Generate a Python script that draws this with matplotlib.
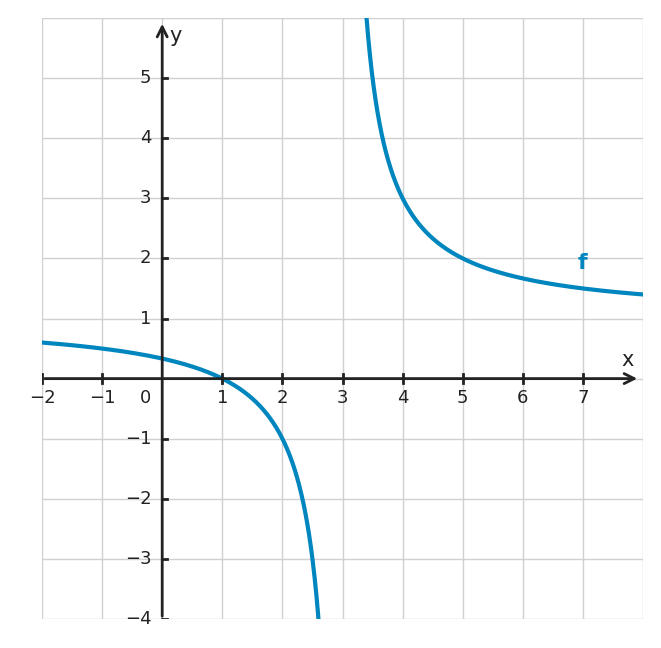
import numpy as np
import matplotlib
matplotlib.use("Agg")
import matplotlib.pyplot as plt

# f(x) = (x - a) / (x - b): zero at x=1, pole at x=3
zero_x = 1
pole_x = 3
x_ticks = [-2, -1, 1, 2, 3, 4, 5, 6, 7]
y_ticks = [-4, -3, -2, -1, 1, 2, 3, 4, 5]
xlim = (-2, 8)
ylim = (-4, 6)
color = "#0086BE"

fig = plt.figure(figsize=(6.61, 6.48), dpi=100)
ax = fig.add_axes([42/661, 29/648, 601/661, 601/648])
ax.set_xlim(*xlim)
ax.set_ylim(*ylim)

for gx in range(-2, 9):
    ax.axvline(gx, color="#d0d0d0", lw=1, zorder=0)
for gy in range(-4, 7):
    ax.axhline(gy, color="#d0d0d0", lw=1, zorder=0)

for xs in (np.linspace(-2, 2.999, 800), np.linspace(3.001, 8, 800)):
    ys = (xs - zero_x) / (xs - pole_x)
    ys = np.where(np.abs(ys) > 20, np.nan, ys)
    ax.plot(xs, ys, color=color, lw=3, zorder=3)

for s in ax.spines.values():
    s.set_visible(False)
ax.set_xticks([]); ax.set_yticks([])

ax.annotate("", xy=(7.95, 0), xytext=(-2, 0),
            arrowprops=dict(arrowstyle="->", color="#222", lw=2, mutation_scale=18), zorder=4)
ax.annotate("", xy=(0, 5.95), xytext=(0, -4),
            arrowprops=dict(arrowstyle="->", color="#222", lw=2, mutation_scale=18), zorder=4)

tc = "#222"
for t in x_ticks:
    ax.plot([t, t], [-0.07, 0.07], color=tc, lw=2, zorder=4)
    ax.text(t, -0.18, f"{t}".replace("-", "\u2212"), ha="center", va="top", fontsize=13, color=tc)
for t in y_ticks:
    ax.plot([0, 0.08], [t, t], color=tc, lw=2, zorder=4)
    ax.text(-0.18, t, f"{t}".replace("-", "\u2212"), ha="right", va="center", fontsize=13, color=tc)
ax.text(-0.18, -0.18, "0", ha="right", va="top", fontsize=13, color=tc)
ax.text(7.75, 0.15, "x", ha="center", va="bottom", fontsize=15, color=tc)
ax.text(0.12, 5.7, "y", ha="left", va="center", fontsize=15, color=tc)
ax.text(7.0, 1.93, "f", ha="center", va="center", fontsize=16, color=color, fontweight="bold")

fig.savefig("out.png", dpi=100)
